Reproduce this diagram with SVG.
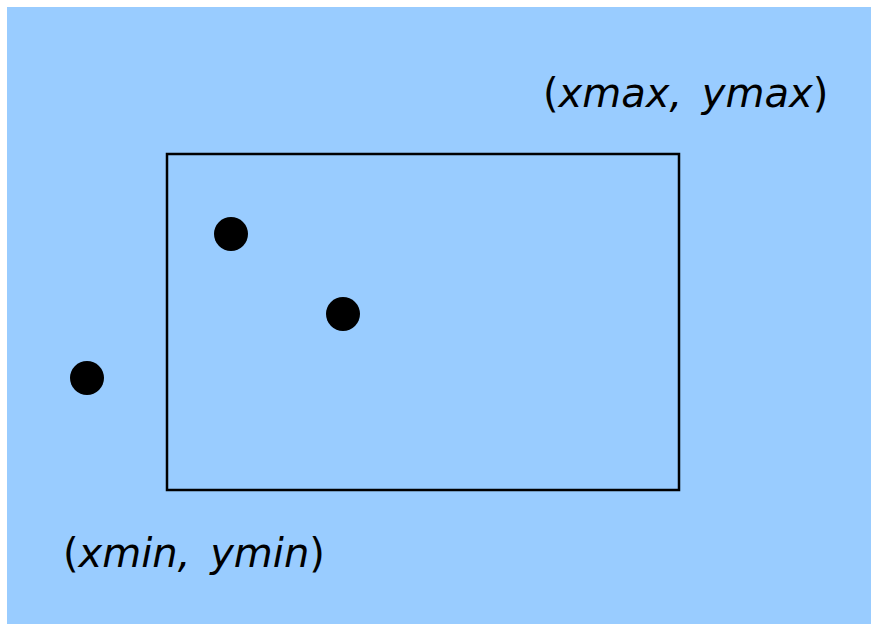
<svg xmlns="http://www.w3.org/2000/svg" width="871" height="624" viewBox="0 0 871 624">
<style>
.lbl{font-family:"DejaVu Sans",Verdana,sans-serif;font-size:40px;fill:#000;word-spacing:7px}
.it{font-style:italic}
.pt{fill:#000}
</style>
<rect x="0" y="0" width="871" height="624" fill="#ffffff"/>
<rect x="7" y="7" width="864" height="617" fill="#99CCFF"/>
<g id="bbox"><rect x="167" y="154" width="512" height="336" fill="none" stroke="#000" stroke-width="2.5"/></g>
<g id="p1"><circle class="pt" cx="231" cy="234" r="17"/></g>
<g id="p2"><circle class="pt" cx="343" cy="314" r="17"/></g>
<g id="p3"><circle class="pt" cx="87" cy="378" r="17"/></g>
<g id="label-max"><text class="lbl" x="543" y="107">(<tspan class="it">xmax, ymax</tspan>)</text></g>
<g id="label-min"><text class="lbl" x="63" y="567">(<tspan class="it">xmin, ymin</tspan>)</text></g>
</svg>
